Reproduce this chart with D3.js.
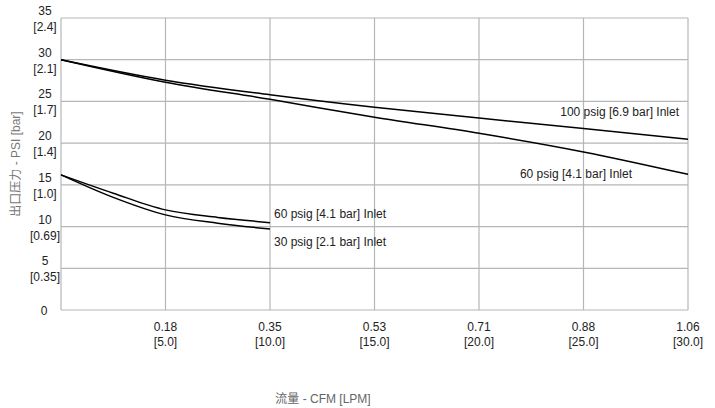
<!DOCTYPE html>
<html><head><meta charset="utf-8">
<script src="https://cdn.jsdelivr.net/npm/d3@7"></script>
<style>body{margin:0;background:#fff}svg{display:block}text{font-family:"Liberation Sans",Arial,"Noto Sans CJK SC",sans-serif}</style>
</head><body>
<script>
const xTicksLpm = [5, 10, 15, 20, 25, 30];
const xTickCfm = ["0.18", "0.35", "0.53", "0.71", "0.88", "1.06"];
const xTickLpm = ["[5.0]", "[10.0]", "[15.0]", "[20.0]", "[25.0]", "[30.0]"];
const yTicksPsi = [0, 5, 10, 15, 20, 25, 30, 35];
const yTickBar = ["", "[0.35]", "[0.69]", "[1.0]", "[1.4]", "[1.7]", "[2.1]", "[2.4]"];

const flowA = [0, 5, 10, 15, 20, 25, 30];
const psig100 = [30, 27.55, 25.8, 24.3, 23.0, 21.75, 20.46];
const psig60hi = [30, 27.3, 25.25, 23.1, 21.18, 18.95, 16.26];
const flowB = [0, 2.5, 5, 7.5, 10];
const psig60lo = [16.2, 14.0, 12.0, 11.1, 10.47];
const psig30 = [16.2, 13.5, 11.4, 10.4, 9.71];

const seriesLabels = ["100 psig [6.9 bar] Inlet", "60 psig [4.1 bar] Inlet", "60 psig [4.1 bar] Inlet", "30 psig [2.1 bar] Inlet"];

const W = 715, H = 408;
const svg = d3.select("body").append("svg").attr("width", W).attr("height", H);
const x = d3.scaleLinear().domain([0, 30]).range([61, 688]);
const y = d3.scaleLinear().domain([0, 35]).range([310, 18]);
const grid = "#b4b6b9";

const g = svg.append("g");
g.selectAll("line.h").data(yTicksPsi).join("line")
  .attr("x1", x(0)).attr("x2", x(30)).attr("y1", d => y(d)).attr("y2", d => y(d))
  .attr("stroke", grid).attr("stroke-width", 1.2);
g.selectAll("line.v").data([0].concat(xTicksLpm)).join("line")
  .attr("x1", d => x(d)).attr("x2", d => x(d)).attr("y1", y(0)).attr("y2", y(35))
  .attr("stroke", grid).attr("stroke-width", 1.2);

yTicksPsi.forEach((v, i) => {
  const t = svg.append("text").attr("text-anchor", "middle").attr("font-size", 12).attr("fill", "#222");
  if (yTickBar[i]) {
    t.append("tspan").attr("x", 45).attr("y", y(v) - 3).text(v);
    t.append("tspan").attr("x", 45).attr("y", y(v) + 13).text(yTickBar[i]);
  } else {
    t.append("tspan").attr("x", 44).attr("y", y(v) + 5).text(v);
  }
});
xTicksLpm.forEach((v, i) => {
  const t = svg.append("text").attr("text-anchor", "middle").attr("font-size", 12).attr("fill", "#222");
  t.append("tspan").attr("x", x(v)).attr("y", 331).text(xTickCfm[i]);
  t.append("tspan").attr("x", x(v)).attr("y", 346).text(xTickLpm[i]);
});

const line = d3.line().x(d => x(d[0])).y(d => y(d[1])).curve(d3.curveMonotoneX);
const mk = (xs, ys) => xs.map((v, i) => [v, ys[i]]);
[mk(flowA, psig100), mk(flowA, psig60hi), mk(flowB, psig60lo), mk(flowB, psig30)].forEach(d => {
  svg.append("path").attr("d", line(d)).attr("fill", "none").attr("stroke", "#000").attr("stroke-width", 1.5);
});

const lab = (txt, xx, yy, anchor) => svg.append("text").attr("x", xx).attr("y", yy)
  .attr("text-anchor", anchor).attr("font-size", 12).attr("fill", "#222").text(txt);
lab(seriesLabels[0], 679, 116, "end");
lab(seriesLabels[1], 632, 178, "end");
lab(seriesLabels[2], 274, 218, "start");
lab(seriesLabels[3], 274, 246, "start");

svg.append("text").attr("transform", "translate(20,164) rotate(-90)").attr("text-anchor", "middle")
  .attr("font-size", 12).attr("fill", "#777").text("出口压力 - PSI [bar]");
svg.append("text").attr("x", 323).attr("y", 403).attr("text-anchor", "middle")
  .attr("font-size", 12).attr("fill", "#666").text("流量 - CFM [LPM]");
</script>
</body></html>
